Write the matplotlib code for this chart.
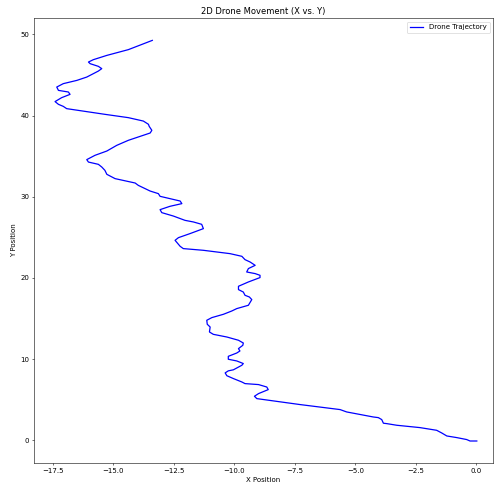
import matplotlib
matplotlib.use("Agg")
import matplotlib.pyplot as plt

# Drone path samples (X, Y), from launch point to final position
x_pos = [0.02, -0.26, -0.40, -0.81, -1.22, -1.43, -1.64, -2.33, -3.29, -3.70, -3.84, -3.91,
         -4.05, -4.26, -5.36, -5.63, -7.29, -9.07, -9.17, -9.00, -8.60, -8.66, -9.00,
         -9.56, -9.69, -10.04, -10.31, -10.38, -10.25, -10.04, -9.69, -9.63, -9.90,
         -10.25, -10.25, -9.90, -9.77, -9.83, -9.65, -9.63, -9.83, -10.31, -10.87,
         -11.03, -11.00, -11.12, -11.14, -10.93, -10.45, -10.11, -9.90, -9.42, -9.28,
         -9.38, -9.56, -9.63, -9.83, -9.83, -9.42, -8.94, -8.94, -9.14, -9.49, -9.42,
         -9.14, -9.35, -9.56, -9.69, -10.18, -11.28, -12.11, -12.24, -12.45, -12.31,
         -11.83, -11.28, -11.35, -11.69, -12.04, -12.52, -13.00, -13.07, -12.66,
         -12.17, -12.24, -13.07, -13.14, -13.48, -13.69, -13.97, -14.10, -14.93,
         -15.27, -15.35, -15.48, -15.62, -16.03, -16.10, -15.76, -15.27, -14.86,
         -14.38, -13.48, -13.41, -13.52, -13.55, -13.76, -14.38, -15.35, -16.45,
         -16.93, -17.07, -17.27, -17.41, -17.14, -16.79, -16.86, -17.27, -17.34,
         -17.07, -16.51, -16.10, -15.83, -15.62, -15.48, -15.62, -15.96, -16.03,
         -15.83, -15.27, -14.38, -14.10, -13.39]
y_pos = [-0.09, -0.09, 0.09, 0.33, 0.53, 0.90, 1.23, 1.56, 1.85, 2.05, 2.10, 2.55,
         2.79, 2.87, 3.49, 3.78, 4.40, 5.13, 5.42, 5.75, 6.24, 6.56, 6.86,
         6.98, 7.18, 7.60, 7.95, 8.30, 8.55, 8.68, 9.24, 9.45, 9.77,
         9.98, 10.34, 10.75, 11.00, 11.29, 11.70, 11.98, 12.32, 12.72, 13.05,
         13.34, 13.95, 14.29, 14.78, 15.11, 15.52, 15.92, 16.22, 16.63, 17.33,
         17.65, 17.86, 18.26, 18.56, 18.97, 19.50, 20.04, 20.32, 20.53, 20.73, 21.15,
         21.55, 21.96, 22.25, 22.66, 22.99, 23.40, 23.61, 23.89, 24.63, 24.96,
         25.46, 26.07, 26.60, 26.89, 27.09, 27.62, 28.04, 28.41, 28.82,
         29.15, 29.47, 30.05, 30.38, 30.70, 31.00, 31.40, 31.69, 32.23,
         32.76, 33.25, 33.66, 33.99, 34.27, 34.57, 35.10, 35.63, 36.33,
         36.95, 37.85, 38.18, 38.67, 38.92, 39.32, 39.74, 40.15, 40.64,
         40.85, 41.13, 41.38, 41.72, 42.20, 42.61, 42.90, 43.10, 43.51,
         43.93, 44.33, 44.74, 45.16, 45.48, 45.78, 46.06, 46.39, 46.59,
         46.88, 47.41, 48.12, 48.44, 49.26]

fig = plt.figure(figsize=(9.9, 9.8), dpi=50)
ax = fig.add_axes([0.0687, 0.0551, 0.9273, 0.9079])

ax.plot(x_pos, y_pos, color="blue", linewidth=1.8, label="Drone Trajectory")
ax.set_xlim(-18.28, 0.69)
ax.set_ylim(-2.8, 52.0)
ax.set_title("2D Drone Movement (X vs. Y)", fontsize=12)
ax.set_xlabel("X Position", fontsize=10)
ax.set_ylabel("Y Position", fontsize=10)
ax.legend(loc="upper right", fontsize=10)

fig.savefig("out.png", dpi=50)
